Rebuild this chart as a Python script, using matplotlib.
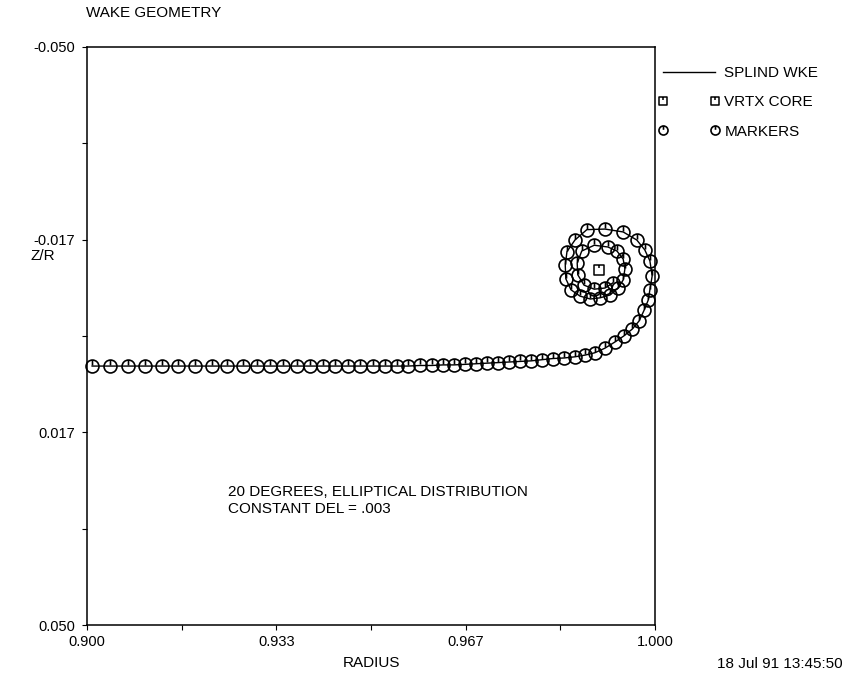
import numpy as np
import matplotlib
matplotlib.use("Agg")
import matplotlib.pyplot as plt
from matplotlib.path import Path

plt.rcParams['font.family'] = ['Liberation Sans', 'DejaVu Sans']
plt.rcParams['font.size'] = 11

# wake marker positions (radius, z/r), from the blade root side into the tip vortex
radius = [
    0.9009, 0.9040, 0.9072, 0.9102, 0.9132, 0.9160, 0.9190, 0.9220, 0.9246, 0.9275,
    0.9299, 0.9322, 0.9345, 0.9370, 0.9393, 0.9415, 0.9437, 0.9460, 0.9481, 0.9504,
    0.9525, 0.9546, 0.9565, 0.9586, 0.9607, 0.9627, 0.9646, 0.9666, 0.9685, 0.9704,
    0.9724, 0.9743, 0.9762, 0.9782, 0.9801, 0.9820, 0.9840, 0.9859,
    0.9877, 0.9894, 0.9912, 0.9930, 0.9945, 0.9960, 0.9972, 0.9981, 0.9988, 0.9991,
    0.9995, 0.9991, 0.9982, 0.9968, 0.9944, 0.9912, 0.9880, 0.9859, 0.9845, 0.9842,
    0.9843, 0.9852, 0.9868, 0.9886, 0.9903, 0.9921, 0.9935, 0.9944, 0.9947, 0.9944,
    0.9933, 0.9917, 0.9893, 0.9871, 0.9863, 0.9864, 0.9875, 0.9893, 0.9912, 0.9926,
]
z_r = [
    0.0052, 0.0052, 0.0052, 0.0052, 0.0052, 0.0052, 0.0052, 0.0052, 0.0052, 0.0052,
    0.0052, 0.0052, 0.0052, 0.0052, 0.0052, 0.0052, 0.0052, 0.0052, 0.0052, 0.0052,
    0.0052, 0.0052, 0.0052, 0.0051, 0.0051, 0.0050, 0.0050, 0.0049, 0.0048, 0.0047,
    0.0046, 0.0045, 0.0044, 0.0043, 0.0041, 0.0039, 0.0038, 0.0036,
    0.0033, 0.0029, 0.0021, 0.0010, 0.0000, -0.0012, -0.0026, -0.0045, -0.0062, -0.0080,
    -0.0104, -0.0130, -0.0149, -0.0166, -0.0180, -0.0185, -0.0184, -0.0166, -0.0146, -0.0122,
    -0.0099, -0.0080, -0.0069, -0.0064, -0.0066, -0.0071, -0.0083, -0.0097, -0.0116, -0.0133,
    -0.0147, -0.0154, -0.0157, -0.0147, -0.0126, -0.0106, -0.0088, -0.0081, -0.0083, -0.0092,
]
core_radius = [0.9901]
core_z = [-0.0114]

x_major = [0.9, 0.93333, 0.96667, 1.0]
x_labels = ['0.900', '0.933', '0.967', '1.000']
x_minor = [0.91667, 0.95, 0.98333]
y_major = [-0.05, -0.01667, 0.01667, 0.05]
y_labels = ['-0.050', '-0.017', '0.017', '0.050']
y_minor = [-0.03333, 0.0, 0.03333]

# plotter symbols: circle / square with a tick from the top
circ = Path.make_compound_path(Path.unit_circle(),
                               Path([(0, 1), (0, 0.15)], [Path.MOVETO, Path.LINETO]))
sq = Path([(-1, -1), (1, -1), (1, 1), (-1, 1), (-1, -1), (0, 1), (0, 0.3)],
          [Path.MOVETO, Path.LINETO, Path.LINETO, Path.LINETO, Path.CLOSEPOLY,
           Path.MOVETO, Path.LINETO])

fig = plt.figure(figsize=(8.49, 6.81), dpi=100)
ax = fig.add_axes([0.1025, 0.0822, 0.669, 0.8488])

ax.plot(radius, z_r, '-', color='k', lw=1.0, label='SPLIND WKE', clip_on=False)
ax.plot(core_radius, core_z, ls='none', marker=sq, ms=7.5, mfc='none', mec='k', mew=1.1,
        label='VRTX CORE')
ax.plot(radius, z_r, ls='none', marker=circ, ms=9.3, mfc='none', mec='k', mew=1.2,
        label='MARKERS', clip_on=False)

ax.set_xlim(0.9, 1.0)
ax.set_ylim(0.05, -0.05)
ax.set_xticks(x_major)
ax.set_xticklabels(x_labels)
ax.set_xticks(x_minor, minor=True)
ax.set_yticks(y_major)
ax.set_yticklabels(y_labels)
ax.set_yticks(y_minor, minor=True)
ax.tick_params(which='both', direction='out', length=3.5, width=0.8, pad=4, labelsize=10.5)
ax.tick_params(axis='y', which='both', pad=5)
for s in ax.spines.values():
    s.set_linewidth(1.1)

ax.set_xlabel('RADIUS', labelpad=5)
ax.set_ylabel('Z/R', rotation=0, ha='center', va='center')
ax.yaxis.set_label_coords(-0.077, 0.638)

ax.text(0.9248, 0.0258, '20 DEGREES, ELLIPTICAL DISTRIBUTION\nCONSTANT DEL = .003',
        ha='left', va='top', linespacing=1.3)

ax.legend(loc='upper left', bbox_to_anchor=(658 / 849, 1 - 66 / 681),
          bbox_transform=fig.transFigure, frameon=False, numpoints=2,
          handlelength=4.0, handletextpad=0.35, labelspacing=1.0,
          borderpad=0, borderaxespad=0, markerscale=0.7)

fig.text(86 / 849, 1 - 13 / 681, 'WAKE GEOMETRY', ha='left', va='center')
fig.text(843 / 849, 1 - 664 / 681, '18 Jul 91 13:45:50', ha='right', va='center')

fig.savefig('out.png', dpi=100)
